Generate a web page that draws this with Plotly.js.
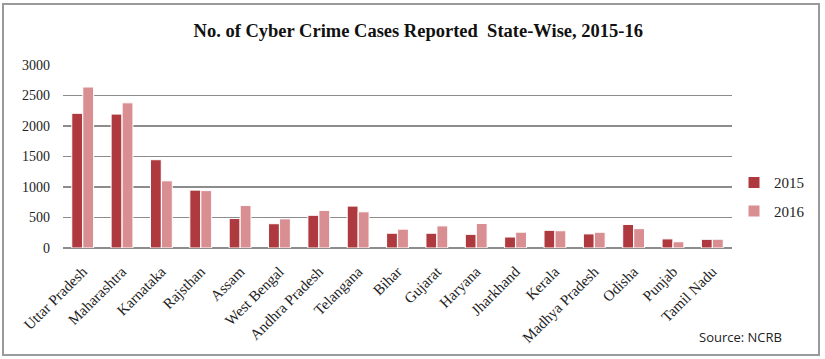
<!DOCTYPE html>
<html>
<head>
<meta charset="utf-8">
<script src="https://cdn.plot.ly/plotly-3.0.1.min.js"></script>
<style>html,body{margin:0;padding:0;background:#fff;}#chart{width:825px;height:359px;}</style>
</head>
<body>
<div id="chart"></div>
<script>
const states = ["Uttar Pradesh","Maharashtra","Karnataka","Rajsthan","Assam","West Bengal","Andhra Pradesh","Telangana","Bihar","Gujarat","Haryana","Jharkhand","Kerala","Madhya Pradesh","Odisha","Punjab","Tamil Nadu"];
const cases2015 = [2208,2195,1447,949,483,398,536,687,242,242,224,180,290,231,386,149,142];
const cases2016 = [2639,2380,1101,941,696,478,616,593,309,362,401,259,283,258,317,102,144];
const yTicks = [0,500,1000,1500,2000,2500,3000];

const W = 825, H = 359;
const L = 63, R = 732, T = 65, B = 248;
const px = v => (v - L) / (R - L);
const py = v => (B - v) / (B - T);
const serif = "'Liberation Serif', 'Times New Roman', serif";

const traces = [
  {type:"bar", name:"2015", x:states, y:cases2015, legendgroup:"a",
   marker:{color:"#ae3a3f", line:{color:"#ffffff", width:1}}},
  {type:"bar", name:"2016", x:states, y:cases2016, legendgroup:"b",
   marker:{color:"#d98e91", line:{color:"#ffffff", width:1}}}
];

const layout = {
  width:W, height:H,
  margin:{l:L, r:W-R, t:T, b:H-B, autoexpand:false},
  paper_bgcolor:"#fff", plot_bgcolor:"#fff",
  font:{family:serif},
  barmode:"group", bargap:0.44, bargroupgap:0.02,
  showlegend:true,
  title:{text:"No. of Cyber Crime Cases Reported\u00a0\u00a0State-Wise, 2015-16",
         font:{family:serif, size:18.5, color:"#111", weight:"bold"}, x:0.507, xanchor:"center", y:0.915, yanchor:"middle"},
  xaxis:{tickangle:-45, tickfont:{family:serif, size:15, color:"#222"},
         showgrid:false, showline:false, ticks:"", ticklabelstandoff:11, fixedrange:true},
  yaxis:{range:[0,3000], tickvals:yTicks, ticktext:yTicks.map(String),
         tickfont:{family:serif, size:14, color:"#222"},
         showgrid:true, gridcolor:"#8c8c8c", gridwidth:1.5,
         zeroline:true, zerolinecolor:"#8c8c8c", zerolinewidth:1.5,
         showline:false, ticks:"", ticklabelstandoff:12, fixedrange:true},
  legend:{x:1.003, xanchor:"left", y:0.28, yanchor:"middle",
          font:{family:serif, size:15, color:"#222"}, tracegroupgap:6,
          traceorder:"grouped", bgcolor:"rgba(0,0,0,0)", itemwidth:30},
  annotations:[{text:"Source: NCRB", xref:"paper", yref:"paper",
                x:px(697), y:py(337), xanchor:"left", yanchor:"middle", showarrow:false,
                font:{family:"'Open Sans', 'Liberation Sans', sans-serif", size:13, color:"#222"}}],
  shapes:[{type:"rect", xref:"paper", yref:"paper",
           x0:px(3), x1:px(819), y0:py(355), y1:py(4),
           line:{color:"#9a9a9a", width:2}, fillcolor:"rgba(0,0,0,0)", layer:"below"}]
};

Plotly.newPlot("chart", traces, layout, {displayModeBar:false, staticPlot:true});
</script>
</body>
</html>
